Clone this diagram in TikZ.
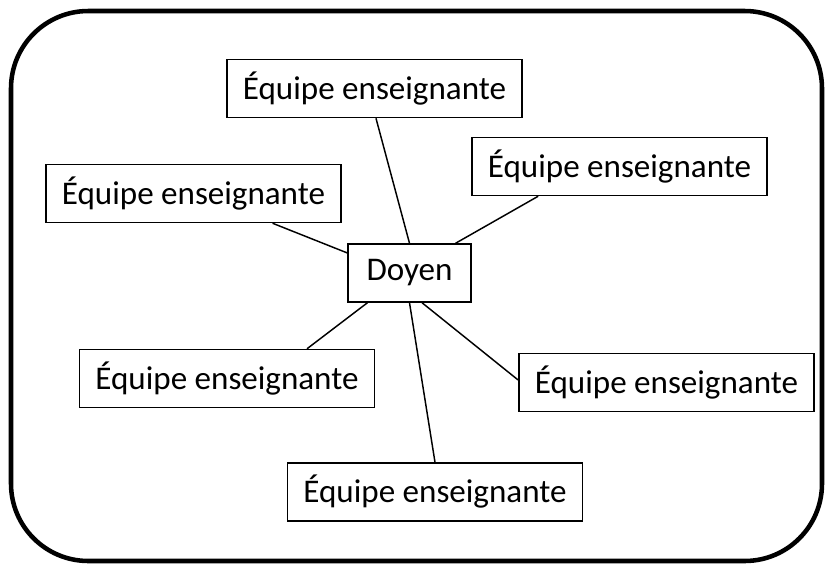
\documentclass[tikz,border=0pt]{standalone}
\usepackage{fontspec}
\setmainfont{Carlito}
\begin{document}
\begin{tikzpicture}[x=0.75pt,y=-0.75pt,
  teambox/.style={draw=black,line width=1.1pt,fill=white,inner sep=0pt,
    minimum width=221.5pt,minimum height=43.5pt,font=\fontsize{24.8}{29}\selectfont},
  headbox/.style={teambox,minimum width=92pt},
  link/.style={draw=black,line width=1.1pt}]
\useasboundingbox (0,0) rectangle (827,565);
\draw[line width=3.4pt,rounded corners=58pt] (11,11) rectangle (822,561);
\node[headbox] (D) at (409.5,273) {Doyen};
\node[teambox] (T) at (374.5,88.5) {Équipe enseignante};
\node[teambox] (TR) at (619.5,166.5) {Équipe enseignante};
\node[teambox] (L) at (193.5,193.5) {Équipe enseignante};
\node[teambox] (BL) at (227,378.5) {Équipe enseignante};
\node[teambox] (R) at (666.5,382.5) {Équipe enseignante};
\node[teambox] (B) at (435,492) {Équipe enseignante};
\draw[link] ([xshift=1.1pt]T.south) -- (D.north);
\draw[link] ([xshift=-61pt]TR.south) -- ([xshift=-12pt]D.north east);
\draw[link] ([xshift=-52pt]L.south east) -- ([yshift=15pt]D.west);
\draw[link] ([xshift=60pt]BL.north) -- ([xshift=15pt]D.south west);
\draw[link] ([yshift=1.9pt]R.west) -- ([xshift=9.4pt]D.south);
\draw[link] (B.north) -- (D.south);
\end{tikzpicture}
\end{document}
